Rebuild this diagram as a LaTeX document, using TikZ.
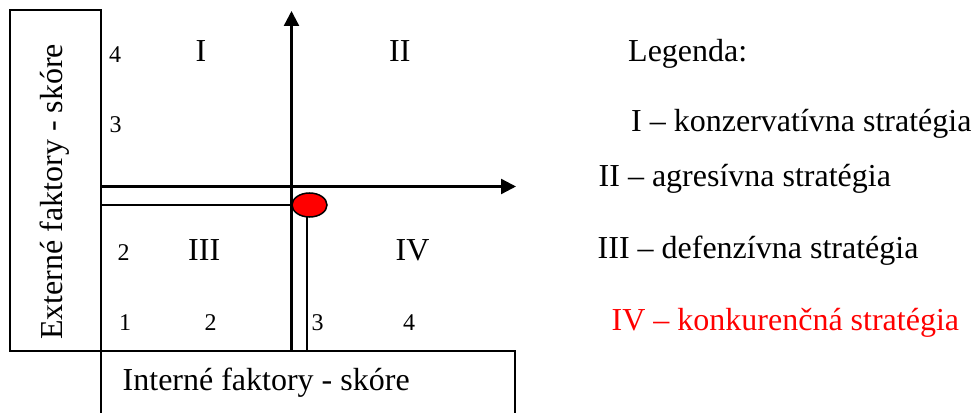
\documentclass[tikz,border=0pt]{standalone}
\usepackage{fontspec}
\setmainfont{Liberation Serif}
\usetikzlibrary{arrows.meta,shapes.geometric}
\begin{document}
\begin{tikzpicture}[x=1pt,y=-1pt,
 big/.style={font=\fontsize{32}{38}\selectfont, inner sep=0pt, anchor=base west},
 small/.style={font=\fontsize{24}{28}\selectfont, inner sep=0pt, anchor=base west},
 boxline/.style={line width=1.5pt},
 axisline/.style={line width=2.4pt},
 thinline/.style={line width=1.6pt},
 tip/.style={-{Triangle[length=15pt,width=15pt]}}]
\useasboundingbox (0,0) rectangle (974,414);
% frame lines
\coordinate (lbTL) at (10,10);
\coordinate (lbBR) at (101,351);
\coordinate (vTop) at (101,10);
\coordinate (vBot) at (101,413);
\coordinate (hL) at (10,351);
\coordinate (hR) at (515,351);
\coordinate (rBot) at (515,413);
\draw[boxline] (lbTL) rectangle (lbBR);
\draw[boxline] (vTop) -- (vBot);
\draw[boxline] (hL) -- (hR) -- (rBot);
% axes
\coordinate (xS) at (101,186.5);
\coordinate (xE) at (516,186.5);
\coordinate (yS) at (291.5,351);
\coordinate (yE) at (291.5,11);
\draw[axisline,tip] (xS) -- (xE);
\draw[axisline,tip] (yS) -- (yE);
% position marker
\node[draw, ellipse, fill=red, line width=1.5pt, minimum width=35pt, minimum height=24pt, inner sep=0pt] (dot) at (309.5,205) {};
\coordinate (pS) at (101,205);
\coordinate (pE) at (291.5,205);
\coordinate (qS) at (307,351);
\coordinate (qE) at (307,217);
\draw[thinline] (pS) -- (pE);
\draw[thinline] (qE) -- (qS);
% axis labels
\node[big, rotate=90] (ext) at (62,340) {Externé faktory - skóre};
\node[big] (int) at (122.5,390) {Interné faktory - skóre};
% scale numbers
\node[small] (y4) at (109,62.5) {4};
\node[small] (y3) at (109.5,133) {3};
\node[small] (y2) at (117.5,260) {2};
\node[small] (x1) at (119,330.7) {1};
\node[small] (x2) at (204.5,330.7) {2};
\node[small] (x3) at (311.5,330.7) {3};
\node[small] (x4) at (403,330.7) {4};
% quadrants
\node[big] (qI) at (195.5,62) {I};
\node[big] (qII) at (389,62) {II};
\node[big] (qIII) at (188,260.5) {III};
\node[big] (qIV) at (395.5,260.5) {IV};
% legend
\node[big] (leg) at (628,62) {Legenda:};
\node[big] (l1) at (631,131.5) {I – konzervatívna stratégia};
\node[big] (l2) at (598.5,187) {II – agresívna stratégia};
\node[big] (l3) at (597.5,258) {III – defenzívna stratégia};
\node[big, text=red] (l4) at (611.5,330) {IV – konkurenčná stratégia};
\end{tikzpicture}
\end{document}
